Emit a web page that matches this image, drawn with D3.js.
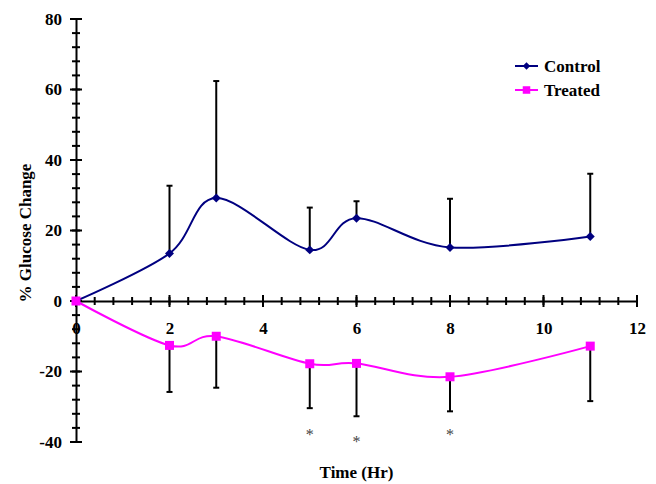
<!DOCTYPE html>
<html>
  <head>
    <meta charset="utf-8">
    <title>% Glucose Change</title>
    <script src="https://cdn.jsdelivr.net/npm/d3@7"></script>
    <style>
      body { margin: 0; background: #fff; }
      svg { display: block; font-family: "Liberation Serif", "Times New Roman", serif; font-weight: bold; }
      .axis text { font-family: "Liberation Serif", "Times New Roman", serif; font-size: 17px; font-weight: bold; fill: #000; }
      .axis path { stroke: #000; stroke-width: 2; }
    </style>
  </head>

  <body>
    <svg id="chart" width="656" height="484"></svg>

    <script>
      // data
      hours = [0, 2, 3, 5, 6, 8, 11];
      control = [0, 13.5, 29.2, 14.5, 23.5, 15.2, 18.3];
      controlErr = [0, 19.2, 33.2, 12, 4.8, 13.8, 17.8];
      treated = [0, -12.6, -10, -17.8, -17.7, -21.5, -12.8];
      treatedErr = [0, 13.2, 14.6, 12.6, 15, 9.8, 15.6];
      starHours = [5, 6, 8];
      starValues = [-37, -39, -37];
      xTicks = [0, 2, 4, 6, 8, 10, 12];
      yTicks = [-40, -20, 0, 20, 40, 60, 80];

      svg = d3.select("#chart");

      x = d3.scaleLinear().domain([0, 12]).range([76, 637]);
      y = d3.scaleLinear().domain([-40, 80]).range([442, 19]);

      // diamond as in the spreadsheet marker (a rotated square)
      diamond = {
        draw: function(context, size) {
          let r = Math.sqrt(size / 2);
          context.moveTo(0, -r);
          context.lineTo(r, 0);
          context.lineTo(0, r);
          context.lineTo(-r, 0);
          context.closePath();
        }
      };

      // axes
      yAxis = d3.axisLeft(y)
        .tickValues(yTicks)
        .tickSize(0)
        .tickSizeOuter(0)
        .tickPadding(14)
        .tickFormat(String);
      yGroup = svg.append("g")
        .attr("class", "axis")
        .attr("transform", "translate(" + x(0) + ",0)")
        .call(yAxis);
      yGroup.selectAll(".minor")
        .data(d3.range(-40, 81, 4))
        .enter().append("line")
          .attr("x1", -4).attr("x2", 4)
          .attr("y1", function(d) { return y(d); })
          .attr("y2", function(d) { return y(d); })
          .attr("stroke", "#000").attr("stroke-width", 2);
      yGroup.selectAll(".major")
        .data(yTicks)
        .enter().append("line")
          .attr("x1", -6).attr("x2", 6)
          .attr("y1", function(d) { return y(d); })
          .attr("y2", function(d) { return y(d); })
          .attr("stroke", "#000").attr("stroke-width", 2);

      xAxis = d3.axisBottom(x)
        .tickValues(xTicks)
        .tickSize(0)
        .tickSizeOuter(0)
        .tickPadding(21)
        .tickFormat(String);
      xGroup = svg.append("g")
        .attr("class", "axis")
        .attr("transform", "translate(0," + y(0) + ")")
        .call(xAxis);
      xGroup.selectAll(".minor")
        .data(d3.range(0, 12.01, 0.4))
        .enter().append("line")
          .attr("y1", -4).attr("y2", 4)
          .attr("x1", function(d) { return x(d); })
          .attr("x2", function(d) { return x(d); })
          .attr("stroke", "#000").attr("stroke-width", 2);
      xGroup.selectAll(".major")
        .data(xTicks)
        .enter().append("line")
          .attr("y1", -6).attr("y2", 6)
          .attr("x1", function(d) { return x(d); })
          .attr("x2", function(d) { return x(d); })
          .attr("stroke", "#000").attr("stroke-width", 2);

      // axis titles
      svg.append("text")
        .attr("x", x(6))
        .attr("y", 478)
        .attr("text-anchor", "middle")
        .style("font-size", "17px")
        .text("Time (Hr)");
      svg.append("text")
        .attr("transform", "translate(31,233) rotate(-90)")
        .attr("text-anchor", "middle")
        .style("font-size", "17px")
        .text("% Glucose Change");

      series = [
        { name: "Control", values: control, err: controlErr, sign: 1, colour: "#000080", symbol: diamond, size: 40 },
        { name: "Treated", values: treated, err: treatedErr, sign: -1, colour: "#ff00ff", symbol: d3.symbolSquare, size: 81 }
      ];

      line = d3.line()
        .x(function(d) { return x(d[0]); })
        .y(function(d) { return y(d[1]); })
        .curve(d3.curveCatmullRom.alpha(0));

      series.forEach(function(s) {
        let pts = hours.map(function(h, i) { return [h, s.values[i], s.err[i]]; });

        // one-sided error bars
        let bars = svg.append("g");
        pts.filter(function(d) { return d[2] > 0; }).forEach(function(d) {
          let end = y(d[1] + s.sign * d[2]);
          bars.append("line")
            .attr("x1", x(d[0])).attr("x2", x(d[0]))
            .attr("y1", y(d[1])).attr("y2", end)
            .attr("stroke", "#000").attr("stroke-width", 2);
          bars.append("line")
            .attr("x1", x(d[0]) - 3).attr("x2", x(d[0]) + 3)
            .attr("y1", end).attr("y2", end)
            .attr("stroke", "#000").attr("stroke-width", 2);
        });

        svg.append("path")
          .datum(pts)
          .attr("d", line)
          .attr("fill", "none")
          .attr("stroke", s.colour)
          .attr("stroke-width", 2);

        svg.selectAll(null)
          .data(pts)
          .enter().append("path")
            .attr("transform", function(d) { return "translate(" + x(d[0]) + "," + y(d[1]) + ")"; })
            .attr("d", d3.symbol().type(s.symbol).size(s.size))
            .attr("fill", s.colour);
      });

      // significance marks
      svg.selectAll(".star")
        .data(starHours)
        .enter().append("text")
          .attr("x", function(d) { return x(d); })
          .attr("y", function(d, i) { return y(starValues[i]) + 9; })
          .attr("text-anchor", "middle")
          .style("font-size", "16px")
          .style("font-weight", "normal")
          .style("fill", "#444")
          .text("*");

      // legend
      legend = svg.append("g").attr("transform", "translate(515,66)");
      series.forEach(function(s, i) {
        let row = legend.append("g").attr("transform", "translate(0," + i * 24 + ")");
        row.append("line")
          .attr("x1", 0).attr("x2", 23)
          .attr("stroke", s.colour).attr("stroke-width", 2);
        row.append("path")
          .attr("transform", "translate(11.5,0)")
          .attr("d", d3.symbol().type(s.symbol).size(s.size * 0.7))
          .attr("fill", s.colour);
        row.append("text")
          .attr("x", 29)
          .attr("y", 6)
          .style("font-size", "17px")
          .text(s.name);
      });
    </script>
  </body>
</html>
